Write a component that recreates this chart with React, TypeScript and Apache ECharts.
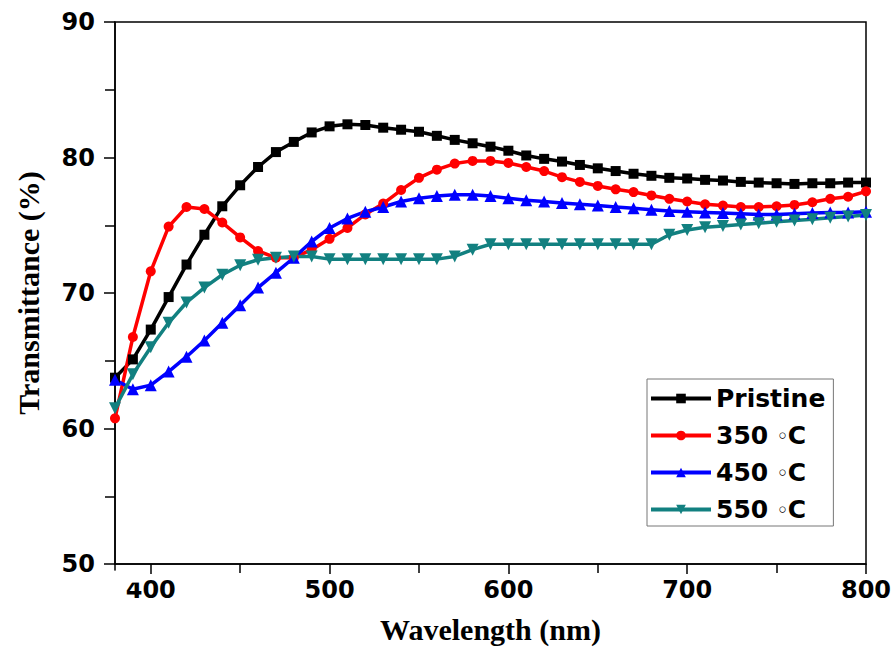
import React, { useEffect, useRef } from "react";
import * as echarts from "echarts";

const wavelengths = [
  380, 390, 400, 410, 420, 430, 440, 450, 460, 470, 480, 490, 500, 510, 520, 530, 540, 550, 560, 570, 580,
  590, 600, 610, 620, 630, 640, 650, 660, 670, 680, 690, 700, 710, 720, 730, 740, 750, 760, 770, 780, 790, 800,
];

const pristine = [
  63.75, 65.1, 67.3, 69.7, 72.1, 74.3, 76.4, 77.95, 79.3, 80.4, 81.15, 81.85, 82.3, 82.45, 82.4, 82.2, 82.05,
  81.9, 81.6, 81.3, 81.05, 80.8, 80.5, 80.15, 79.9, 79.7, 79.45, 79.2, 79.0, 78.8, 78.65, 78.5, 78.45, 78.35,
  78.3, 78.2, 78.15, 78.1, 78.05, 78.1, 78.1, 78.15, 78.15,
];

const t350 = [
  60.75, 66.75, 71.6, 74.9, 76.35, 76.2, 75.2, 74.1, 73.1, 72.6, 72.6, 73.2, 74.0, 74.8, 75.8, 76.6, 77.6, 78.5,
  79.1, 79.55, 79.75, 79.75, 79.6, 79.3, 79.0, 78.55, 78.2, 77.9, 77.65, 77.45, 77.2, 76.95, 76.75, 76.55, 76.45,
  76.35, 76.35, 76.4, 76.5, 76.7, 76.95, 77.1, 77.5,
];

const t450 = [
  63.6, 62.9, 63.2, 64.2, 65.3, 66.5, 67.8, 69.1, 70.4, 71.5, 72.6, 73.8, 74.8, 75.5, 76.0, 76.35, 76.75, 77.0,
  77.15, 77.25, 77.25, 77.15, 77.0, 76.85, 76.75, 76.65, 76.55, 76.45, 76.35, 76.25, 76.15, 76.05, 76.0, 75.95,
  75.9, 75.85, 75.8, 75.8, 75.85, 75.9, 75.95, 75.95, 76.0,
];

const t550 = [
  61.5, 64.0, 66.0, 67.8, 69.3, 70.4, 71.35, 72.05, 72.45, 72.6, 72.7, 72.7, 72.5, 72.5, 72.5, 72.5, 72.5, 72.5,
  72.5, 72.7, 73.2, 73.6, 73.6, 73.6, 73.6, 73.6, 73.6, 73.6, 73.6, 73.6, 73.6, 74.3, 74.65, 74.85, 74.95, 75.05,
  75.15, 75.25, 75.35, 75.45, 75.55, 75.65, 75.75,
];

const seriesNames = ["Pristine", "350 ◦C", "450 ◦C", "550 ◦C"];
const seriesColors = ["#000000", "#ff0000", "#0000ff", "#128080"];
const seriesSymbols = ["rect", "circle", "triangle", "triangle"];
const seriesRotate = [0, 0, 0, 180];
const seriesSizes = [10, 10, 12, 12];
const seriesValues = [pristine, t350, t450, t550];

export default function App() {
  const ref = useRef<HTMLDivElement>(null);

  useEffect(() => {
    document.body.style.margin = "0";
    if (!ref.current) return;
    const chart = echarts.init(ref.current, undefined, { renderer: "svg" });
    const tickFont = {
      fontFamily: "DejaVu Sans",
      fontWeight: "bold" as const,
      fontSize: 24,
      color: "#000",
    };
    chart.setOption({
      animation: false,
      backgroundColor: "#fff",
      grid: {
        left: 115,
        right: 29,
        top: 22,
        bottom: 80,
        show: true,
        borderColor: "#000",
        borderWidth: 1.5,
      },
      legend: {
        left: 647,
        top: 379,
        orient: "vertical",
        data: seriesNames,
        borderColor: "#777",
        borderWidth: 1,
        padding: [7, 8, 4, 2],
        itemGap: 12,
        itemWidth: 60,
        itemHeight: 12,
        lineStyle: { width: 4 },
        formatter: (name: string) => {
          const parts = name.split("◦");
          if (parts.length === 2) return `{a|${parts[0]}}{b|◦}{a|${parts[1]}}`;
          return `{a|${name}}`;
        },
        textStyle: {
          color: "#000",
          rich: {
            a: {
              fontFamily: "DejaVu Sans",
              fontWeight: "bold",
              fontSize: 25,
              color: "#000",
              lineHeight: 25,
            },
            b: {
              fontFamily: "DejaVu Sans",
              fontWeight: "bold",
              fontSize: 17,
              color: "#000",
              lineHeight: 25,
            },
          },
        },
      },
      graphic: [
        {
          type: "rect",
          shape: { x: 112, y: 570.6, width: 30, height: 12 },
          style: { fill: "#fff" },
          z: 100,
        },
      ],
      xAxis: {
        type: "value",
        min: 380,
        max: 800,
        splitNumber: 5,
        name: "Wavelength (nm)",
        nameLocation: "middle",
        nameGap: 50,
        nameTextStyle: {
          fontFamily: "Liberation Serif",
          fontWeight: "bold",
          fontSize: 30,
          color: "#000",
        },
        axisLine: { show: true, lineStyle: { color: "#000", width: 1.5 } },
        axisTick: { show: true, inside: false, length: 10, lineStyle: { color: "#000", width: 1.5 } },
        minorTick: { show: true, splitNumber: 2, length: 9, lineStyle: { color: "#000", width: 1.5 } },
        axisLabel: { ...tickFont, margin: 14, showMinLabel: false },
        splitLine: { show: false },
      },
      yAxis: {
        type: "value",
        min: 50,
        max: 90,
        interval: 10,
        name: "Transmittance (%)",
        nameLocation: "middle",
        nameGap: 72,
        nameTextStyle: {
          fontFamily: "Liberation Serif",
          fontWeight: "bold",
          fontSize: 30,
          color: "#000",
        },
        axisLine: { show: true, lineStyle: { color: "#000", width: 1.5 } },
        axisTick: { show: true, inside: false, length: 11, lineStyle: { color: "#000", width: 1.5 } },
        minorTick: { show: true, splitNumber: 2, length: 10, lineStyle: { color: "#000", width: 1.5 } },
        axisLabel: { ...tickFont, margin: 20 },
        splitLine: { show: false },
      },
      series: seriesNames.map((name, i) => ({
        name,
        type: "line",
        data: wavelengths.map((w, j) => [w, seriesValues[i][j]]),
        symbol: seriesSymbols[i],
        symbolRotate: seriesRotate[i],
        symbolSize: seriesSizes[i],
        showAllSymbol: true,
        lineStyle: { color: seriesColors[i], width: 3.5 },
        itemStyle: { color: seriesColors[i] },
      })),
    });
    return () => chart.dispose();
  }, []);

  return (
    <div
      ref={ref}
      style={{ position: "absolute", left: 0, top: 0, width: 895, height: 649 }}
    />
  );
}
